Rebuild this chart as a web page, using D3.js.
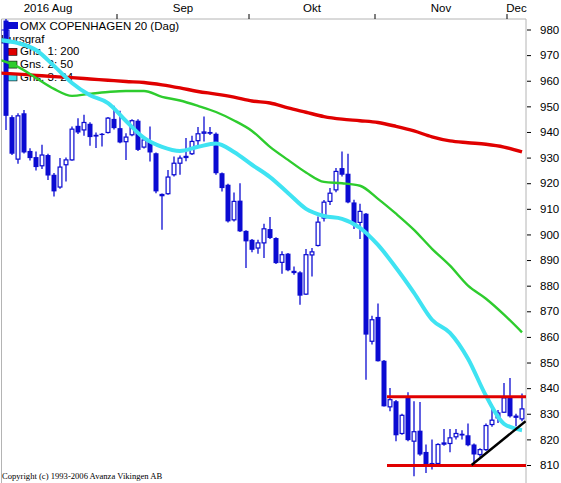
<!DOCTYPE html>
<html><head><meta charset="utf-8">
<script src="https://cdn.jsdelivr.net/npm/d3@7"></script>
<style>
html,body{margin:0;padding:0;background:#fff;}
svg{display:block;}
.sans{font-family:"Liberation Sans",Arial,sans-serif;}
.serif{font-family:"Liberation Serif","Times New Roman",serif;}
</style></head>
<body>
<svg id="chart" width="561" height="483"></svg>
<script>
// ---------- DATA ----------
const title = "OMX COPENHAGEN 20 (Dag)";
const legendLabels = ["Kursgraf", "Gns. 1: 200", "Gns. 2: 50", "Gns. 3: 24"];
const monthLabels = ["2016 Aug", "Sep", "Okt", "Nov", "Dec"];
const monthStartIdx = [-4, 19, 41, 62, 84];
const yTicks = [810,820,830,840,850,860,870,880,890,900,910,920,930,940,950,960,970,980];
const copyright = "Copyright (c) 1993-2006 Avanza Vikingen AB";

const openV  = [983.5,945.8,929.4,947.3,932.6,930.2,926.8,931.0,923.3,918.5,927.2,929.1,942.4,940.8,943.2,938.9,939.3,939.8,945.1,941.5,936.2,938.9,944.4,934.1,936.3,931.7,915.2,915.9,923.3,927.8,930.7,931.5,936.6,939.5,940.0,939.3,923.9,919.4,905.7,913.2,901.4,897.9,894.7,896.7,902.1,898.6,889.1,892.5,885.8,885.2,876.7,892.0,895.7,906.4,912.9,917.4,925.9,923.7,912.5,904.7,908.1,858.3,867.8,850.7,832.7,834.9,822.3,836.2,819.3,823.4,815.1,810.8,810.6,818.2,818.4,821.0,822.2,821.6,818.0,814.1,816.0,825.8,828.4,830.6,836.2,829.3,828.0];
const highV  = [984.5,946.5,947.3,948.6,933.6,932.4,935.0,931.5,924.0,929.8,930.0,942.1,945.4,946.7,943.8,939.8,939.6,945.8,950.2,948.3,939.5,945.0,945.0,937.6,942.1,932.0,916.0,925.2,930.4,930.8,937.6,938.5,941.9,946.0,941.9,939.8,924.2,919.8,916.4,920.0,901.6,898.2,897.9,904.2,906.8,898.9,893.4,892.8,887.5,885.6,894.3,894.7,907.0,913.4,918.1,925.9,932.4,931.5,913.5,912.0,908.4,868.3,873.0,851.0,840.1,835.4,830.0,838.4,834.9,834.6,818.0,820.0,818.5,824.1,824.1,824.1,823.6,826.2,818.4,816.5,826.2,833.6,831.5,842.0,844.0,830.0,837.9];
const lowV   = [940.8,931.0,927.6,931.6,928.9,925.0,925.5,921.3,914.8,917.8,920.7,928.8,939.2,938.5,934.6,933.7,934.3,939.4,941.0,935.6,929.1,938.3,932.6,933.5,928.5,916.1,901.8,915.5,922.6,923.3,928.6,931.0,934.3,936.3,938.8,923.3,916.8,904.7,905.1,901.0,886.9,893.0,892.5,890.8,898.2,888.5,884.7,885.6,884.3,872.6,876.4,883.6,895.3,905.1,911.5,916.5,922.6,912.2,902.1,898.2,843.3,857.0,850.4,832.8,831.0,819.3,821.8,819.3,805.6,813.6,806.9,808.2,810.0,817.5,815.0,820.0,820.0,817.3,810.2,813.2,815.5,824.9,826.4,830.3,828.5,825.1,827.1];
const closeV = [946.3,931.5,946.3,932.0,929.8,926.3,931.0,923.0,916.8,926.3,929.1,941.1,939.8,943.7,938.0,938.2,938.8,945.4,941.5,935.9,938.0,944.4,933.0,936.9,932.0,916.8,915.6,922.4,927.8,929.8,929.8,936.3,939.3,940.0,939.3,923.9,918.1,905.1,912.9,901.2,897.3,894.0,896.7,902.2,898.6,888.8,892.1,886.0,884.9,876.1,892.1,893.2,904.8,912.6,916.1,924.6,923.3,912.5,904.2,909.0,860.9,866.7,850.5,832.9,835.5,821.6,829.4,819.7,823.0,814.1,810.2,810.2,818.0,818.6,820.6,822.3,821.5,817.7,814.1,816.0,825.4,827.5,830.3,836.2,829.0,828.4,831.9];

const maIdx = [-1,2,5,8,11,14,17,20,23,26,29,32,35,38,41,44,47,50,53,56,59,62,65,68,71,74,77,80,83,86];
const ma200 = [963.0,962.6,962.1,961.6,961.2,960.7,960.2,959.7,959.3,958.4,957.2,955.8,954.8,953.6,952.1,951.3,949.4,947.7,946.0,945.0,944.4,943.7,942.2,940.4,938.1,936.5,935.8,935.2,934.1,932.2];
const ma50  = [968.1,965.4,961.1,956.8,954.1,954.9,955.6,956.0,956.0,953.7,952.3,950.2,947.8,944.5,940.4,934.2,929.1,924.2,920.5,920.0,919.0,913.9,908.1,901.8,894.4,887.8,880.0,874.9,868.7,861.8];
const ma24  = [975.9,974.7,972.0,965.8,959.1,954.3,951.3,944.3,937.7,934.2,932.6,934.2,935.5,932.2,927.2,922.4,916.2,910.0,907.2,906.1,902.6,895.9,887.0,877.2,866.7,861.6,851.5,837.0,826.1,823.6];

// support / resistance and trend line (index, price)
const levels = [836.6, 809.8];
const levelStartIdx = 63.5;
const trendStart = [77.6, 810.0];
const trendEnd = [86.6, 827.1];

// ---------- DRAW ----------
const plot = {left: 1.5, right: 526, top: 19, bottom: 483};
const svg = d3.select("#chart");
const x = d3.scaleLinear().domain([0, 86]).range([6, 522]);
const y = d3.scaleLinear().domain([810, 980]).range([465, 29.5]);

const BLUE = "#0b0bd2", RED = "#e00000", GREEN = "#2ecc2e", CYAN = "#3fe3f2";

svg.append("defs").append("clipPath").attr("id","clip")
  .append("rect").attr("x", plot.left).attr("y", plot.top)
  .attr("width", plot.right - plot.left).attr("height", plot.bottom - plot.top);

// frame
svg.append("path")
  .attr("d", `M${plot.left},${plot.bottom}V${plot.top}H${plot.right}V${plot.bottom}`)
  .attr("fill","none").attr("stroke","#b4b4b4").attr("stroke-width",1);

const g = svg.append("g").attr("clip-path","url(#clip)");

// legend (drawn under the marks)
const lg = g.append("g").attr("class","sans");
const legendColors = [null, RED, GREEN, CYAN];
lg.append("rect").attr("x",7).attr("y",22).attr("width",11).attr("height",7).attr("fill",BLUE);
lg.append("text").attr("x",20).attr("y",29.5).attr("font-size",11.5).attr("fill","#000").text(title);
lg.append("rect").attr("x",1).attr("y",30).attr("width",8).attr("height",13).attr("fill","none").attr("stroke",BLUE).attr("stroke-width",1);
legendLabels.forEach((t,i)=>{
  const yy = 42.5 + i*12.8;
  if (legendColors[i]) {
    lg.append("rect").attr("x",8).attr("y",yy-7).attr("width",9).attr("height",7)
      .attr("fill",legendColors[i]).attr("stroke","#000").attr("stroke-width",0.6);
  }
  lg.append("text").attr("x", i===0 ? 1 : 20).attr("y",yy).attr("font-size",11.5).attr("fill","#000").text(t);
});

// candles
const idx = d3.range(openV.length);
const bw = 5;
const cg = g.append("g");
cg.selectAll("line.wick").data(idx).join("line")
  .attr("x1", i=>x(i)).attr("x2", i=>x(i))
  .attr("y1", i=>y(highV[i])).attr("y2", i=>y(lowV[i]))
  .attr("stroke", BLUE).attr("stroke-width", 1.3);
cg.selectAll("rect.body").data(idx).join("rect")
  .attr("x", i=> closeV[i] >= openV[i] ? x(i)-bw/2+0.6 : x(i)-bw/2)
  .attr("width", i=> closeV[i] >= openV[i] ? bw-1.2 : bw)
  .attr("y", i=>y(Math.max(openV[i],closeV[i])))
  .attr("height", i=>Math.max(1.2, Math.abs(y(openV[i])-y(closeV[i]))))
  .attr("fill", i=> closeV[i] >= openV[i] ? "#fff" : BLUE)
  .attr("stroke", BLUE)
  .attr("stroke-width", i=> closeV[i] >= openV[i] ? 1.2 : 0);

// moving averages
const line = (arr)=> d3.line().x((d,k)=>x(maIdx[k])).y(d=>y(d)).curve(d3.curveMonotoneX)(arr);
g.append("path").attr("d", line(ma200)).attr("fill","none").attr("stroke",RED).attr("stroke-width",3.4);
g.append("path").attr("d", line(ma50)).attr("fill","none").attr("stroke",GREEN).attr("stroke-width",2.4);
g.append("path").attr("d", line(ma24)).attr("fill","none").attr("stroke",CYAN).attr("stroke-width",4);

// support / resistance
levels.forEach(v=>{
  g.append("line").attr("x1", x(levelStartIdx)).attr("x2", plot.right)
    .attr("y1", y(v)).attr("y2", y(v)).attr("stroke", RED).attr("stroke-width", 3);
});
g.append("line").attr("x1", x(trendStart[0])).attr("y1", y(trendStart[1]))
  .attr("x2", x(trendEnd[0])).attr("y2", y(trendEnd[1]))
  .attr("stroke","#000").attr("stroke-width",2.4);

// right axis
const ax = svg.append("g").attr("class","sans").attr("transform",`translate(${plot.right+1},0)`)
  .call(d3.axisRight(y).tickValues(yTicks).tickSize(4).tickPadding(9).tickFormat(d3.format("d")));
ax.attr("font-family", null);
ax.select(".domain").remove();
ax.selectAll("line").attr("stroke","#000");
ax.selectAll("text").attr("font-size",11.5).attr("fill","#000");

// top axis: month boundaries and labels
const bounds = monthStartIdx.map(s=>x(s-0.5));
const tg = svg.append("g").attr("class","sans");
tg.selectAll("line").data(bounds.slice(1)).join("line")
  .attr("x1",d=>d).attr("x2",d=>d).attr("y1",plot.top-5).attr("y2",plot.top)
  .attr("stroke","#000").attr("stroke-width",1);
tg.selectAll("text").data(monthLabels).join("text")
  .attr("x",(d,k)=> ((bounds[k]) + (k+1<bounds.length ? bounds[k+1] : plot.right))/2)
  .attr("y",12).attr("text-anchor","middle").attr("font-size",11.5).attr("fill","#000")
  .text(d=>d);

// copyright
svg.append("text").attr("class","serif").attr("x",2).attr("y",478.5)
  .attr("font-size",8.6).attr("fill","#000").text(copyright);
</script>
</body></html>
